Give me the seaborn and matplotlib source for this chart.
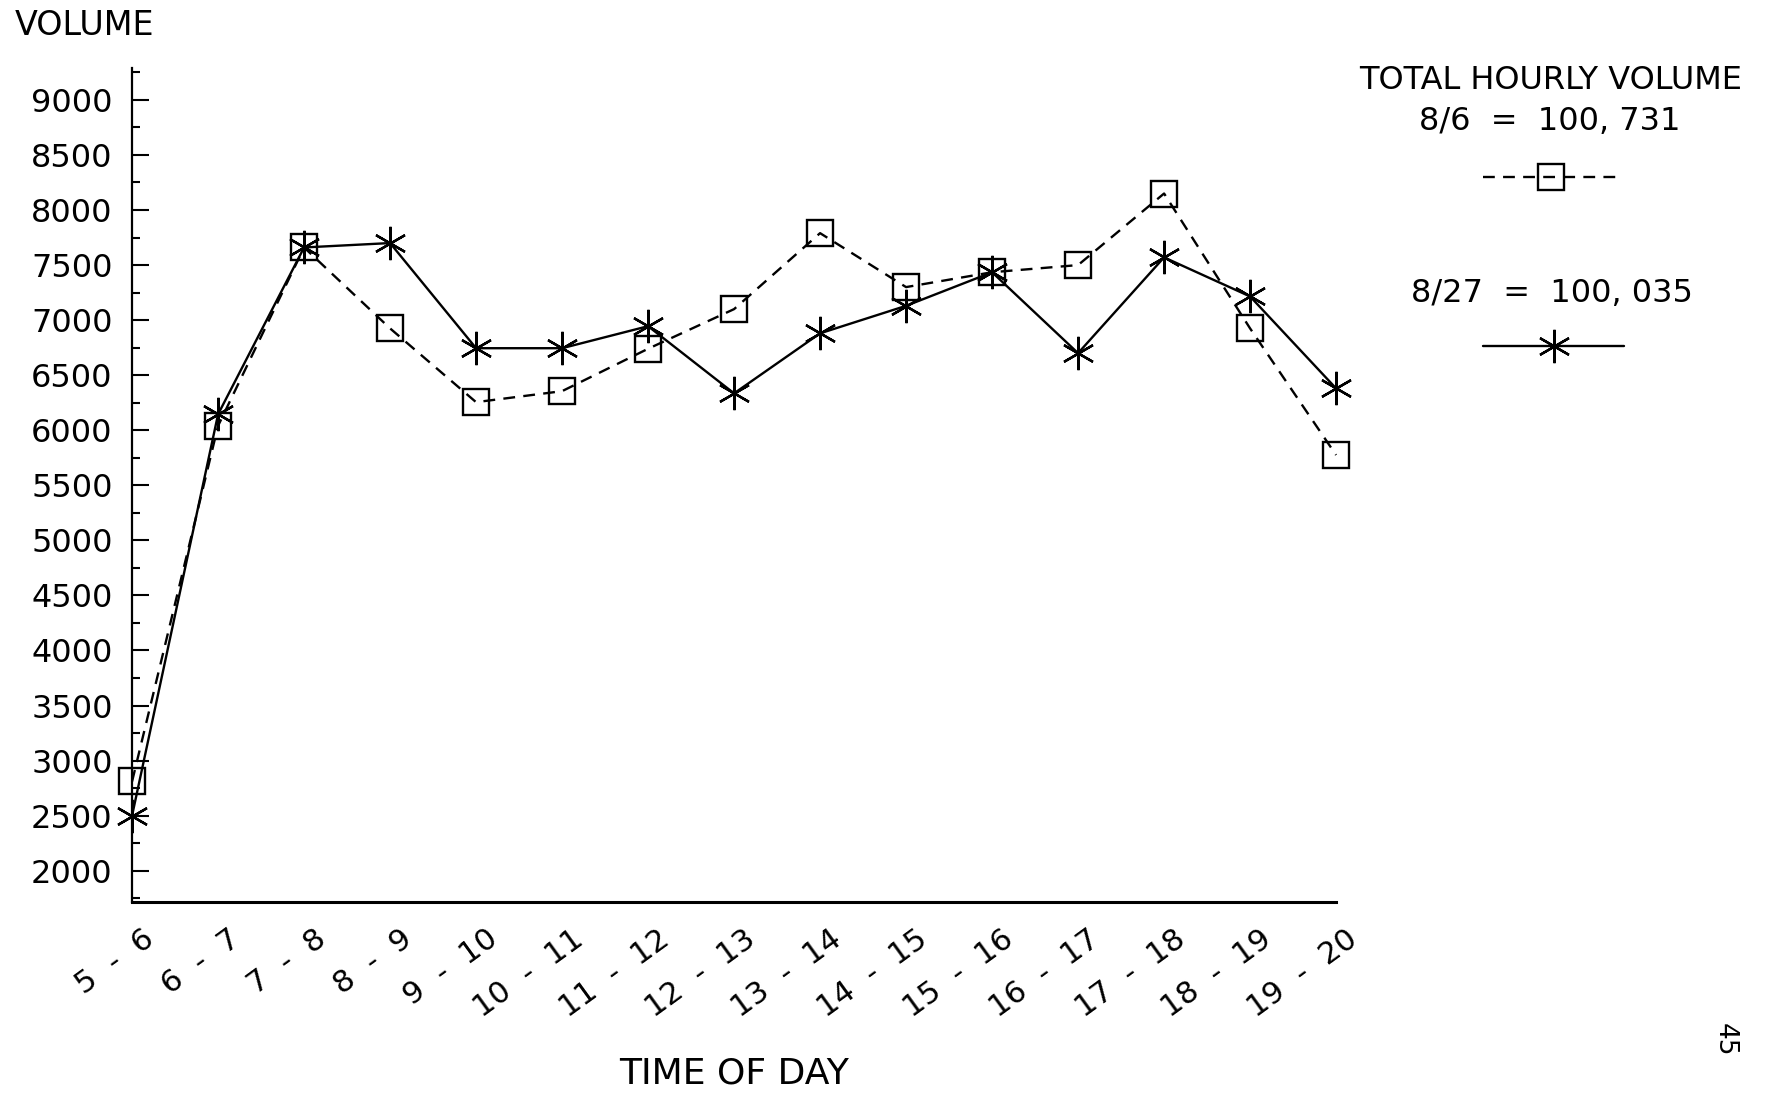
import numpy as np
import pandas as pd
import matplotlib
matplotlib.use('Agg')
import matplotlib.pyplot as plt
import matplotlib.transforms as mtransforms
from matplotlib.lines import Line2D
from matplotlib.ticker import MultipleLocator
import seaborn as sns

# hourly traffic volumes
hour_labels = ['5  -  6', '6  -  7', '7  -  8', '8  -  9', '9  -  10',
               '10  -  11', '11  -  12', '12  -  13', '13  -  14', '14  -  15',
               '15  -  16', '16  -  17', '17  -  18', '18  -  19', '19  -  20']
volume_aug6 = [2810, 6040, 7660, 6925, 6255, 6355, 6740, 7100,
               7790, 7300, 7435, 7500, 8150, 6925, 5775]
volume_aug27 = [2500, 6145, 7660, 7700, 6745, 6745, 6945, 6335,
                6880, 7130, 7435, 6700, 7570, 7215, 6380]
total_aug6 = '8/6  =  100, 731'
total_aug27 = '8/27  =  100, 035'


def main():
    sns.set_style('ticks')
    plt.rcParams['font.family'] = ['DejaVu Sans']
    plt.rcParams.update({'text.color': 'black', 'axes.edgecolor': 'black',
                         'xtick.color': 'black', 'ytick.color': 'black',
                         'axes.labelcolor': 'black'})

    df = pd.DataFrame({
        'slot': np.arange(len(hour_labels)),
        'aug6': volume_aug6,
        'aug27': volume_aug27,
    })

    fig = plt.figure(figsize=(17.68, 10.93), dpi=100)
    ax = fig.add_axes([0.0747, 0.1747, 0.6810, 0.7631])

    dash_style = (0, (5, 3.5))
    sns.lineplot(data=df, x='slot', y='aug6', ax=ax, color='black', lw=1.7,
                 ls=dash_style, marker='s', markersize=19, mfc='none',
                 markeredgecolor='black', markeredgewidth=1.7, clip_on=False)
    sns.lineplot(data=df, x='slot', y='aug27', ax=ax, color='black', lw=1.7,
                 marker=(6, 2, 0), markersize=24, markeredgecolor='black',
                 markeredgewidth=1.7, clip_on=False)

    ax.set_xlim(0, len(hour_labels) - 1)
    ax.set_ylim(1715, 9290)
    sns.despine(ax=ax)
    ax.spines['left'].set_linewidth(1.6)
    ax.spines['bottom'].set_linewidth(2.2)

    ax.yaxis.set_minor_locator(MultipleLocator(250))
    ax.set_yticks(np.arange(2000, 9001, 500))
    ax.tick_params(axis='y', which='major', direction='in', length=12,
                   width=1.5, pad=14, labelsize=23)
    ax.tick_params(axis='y', which='minor', direction='in', length=6, width=1.5)

    ax.set_xticks(df['slot'])
    ax.set_xticklabels(hour_labels, rotation=36, ha='right', va='top',
                       rotation_mode='anchor', fontsize=22)
    ax.tick_params(axis='x', length=0, pad=16)
    shift = mtransforms.ScaledTranslation(10 / 100, 0, fig.dpi_scale_trans)
    for lbl in ax.get_xticklabels():
        lbl.set_transform(lbl.get_transform() + shift)

    ax.set_ylabel('')
    ax.set_xlabel('TIME OF DAY', fontsize=26, va='center')
    ax.xaxis.set_label_coords(0.5, -0.206)

    fig.text(0.0085, 0.977, 'VOLUME', fontsize=24, ha='left', va='center')

    # legend block on the right
    fig.text(0.8773, 0.9259, 'TOTAL HOURLY VOLUME', fontsize=23, ha='center', va='center')
    fig.text(0.8767, 0.8884, total_aug6, fontsize=23, ha='center', va='center')
    fig.add_artist(Line2D([0.8388, 0.877, 0.9152], [0.838, 0.838, 0.838],
                          transform=fig.transFigure, color='black', lw=1.7,
                          ls=dash_style, marker='s', markevery=[1], markersize=19,
                          mfc='none', mec='black', mew=1.7))
    fig.text(0.8778, 0.7319, total_aug27, fontsize=23, ha='center', va='center')
    fig.add_artist(Line2D([0.8388, 0.8787, 0.9186], [0.6834, 0.6834, 0.6834],
                          transform=fig.transFigure, color='black', lw=1.7,
                          marker=(6, 2, 0), markevery=[1], markersize=24,
                          mec='black', mew=1.7))

    fig.text(0.9757, 0.0485, '45', fontsize=19, rotation=-90, ha='center', va='center')

    fig.savefig('out.png', dpi=100)


if __name__ == "__main__":
    main()
